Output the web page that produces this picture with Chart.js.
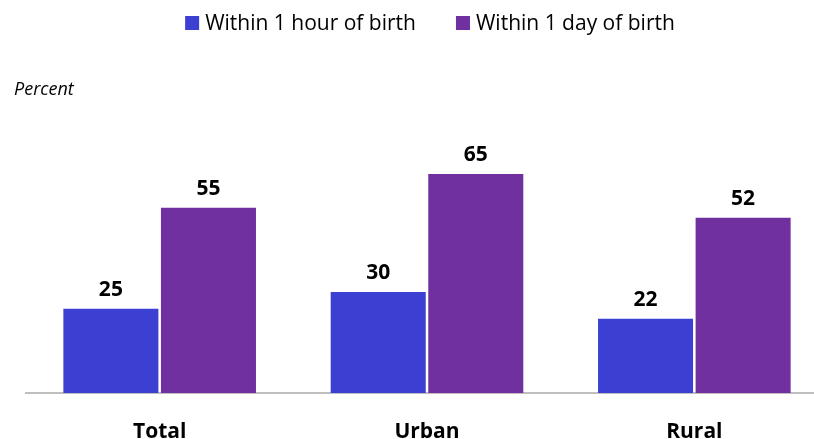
<!DOCTYPE html>
<html>
<head>
<meta charset="utf-8">
<script src="https://cdn.jsdelivr.net/npm/chart.js@4"></script>
<style>
  html, body { margin: 0; padding: 0; background: #fff; overflow: hidden; }
</style>
</head>
<body>
<canvas id="birthChart" width="828" height="439"></canvas>
<script>
// datos
var categories = ['Total', 'Urban', 'Rural'];
var seriesNames = ['Within 1 hour of birth', 'Within 1 day of birth'];
var withinHour = [25, 30, 22];
var withinDay = [55, 65, 52];
var seriesColors = ['#3B40D3', '#7030A0'];

var FONT = '"Open Sans", "DejaVu Sans", sans-serif';

// etiquetas de valor, leyenda y "Percent"
var extrasPlugin = {
    id: 'extras',
    afterDatasetsDraw: function(chart) {
        var ctx = chart.ctx;
        ctx.save();
        ctx.fillStyle = '#000';
        ctx.textAlign = 'center';
        ctx.textBaseline = 'alphabetic';
        ctx.font = 'bold 21px ' + FONT;
        chart.data.datasets.forEach(function(ds, i) {
            chart.getDatasetMeta(i).data.forEach(function(bar, j) {
                ctx.fillText(ds.data[j], bar.x, bar.y - 13);
            });
        });

        // leyenda
        ctx.font = '21px ' + FONT;
        ctx.textAlign = 'left';
        var boxSize = 14, boxGap = 6, itemGap = 40;
        var widths = chart.data.datasets.map(function(ds) {
            return boxSize + boxGap + ctx.measureText(ds.label).width;
        });
        var total = widths.reduce(function(a, b) { return a + b; }, 0) + itemGap * (widths.length - 1);
        var x = 430 - total / 2;
        chart.data.datasets.forEach(function(ds, i) {
            ctx.fillStyle = ds.backgroundColor;
            ctx.fillRect(x, 16, boxSize, boxSize);
            ctx.fillStyle = '#000';
            ctx.fillText(ds.label, x + boxSize + boxGap, 30);
            x += widths[i] + itemGap;
        });

        ctx.font = 'italic 18px ' + FONT;
        ctx.fillText('Percent', 14, 95);
        ctx.restore();
    }
};

var ctx = document.getElementById('birthChart').getContext('2d');
var birthChart = new Chart(ctx, {
    type: 'bar',
    data: {
        labels: categories,
        datasets: [{
            label: seriesNames[0],
            data: withinHour,
            backgroundColor: seriesColors[0]
        }, {
            label: seriesNames[1],
            data: withinDay,
            backgroundColor: seriesColors[1]
        }]
    },
    options: {
        responsive: false,
        animation: false,
        categoryPercentage: 0.73,
        barPercentage: 0.974,
        layout: { padding: { top: 56, left: 26, right: 0, bottom: -4 } },
        plugins: {
            legend: { display: false },
            tooltip: { enabled: false }
        },
        scales: {
            x: {
                grid: { drawOnChartArea: false, color: 'transparent', tickLength: 29 },
                border: { display: true, color: '#BFBFBF', width: 2 },
                ticks: {
                    color: '#000',
                    padding: 0,
                    font: { family: FONT, size: 21, weight: 'bold', lineHeight: 1 }
                }
            },
            y: {
                display: false,
                min: 0,
                max: 100
            }
        }
    },
    plugins: [extrasPlugin]
});
</script>
</body>
</html>
